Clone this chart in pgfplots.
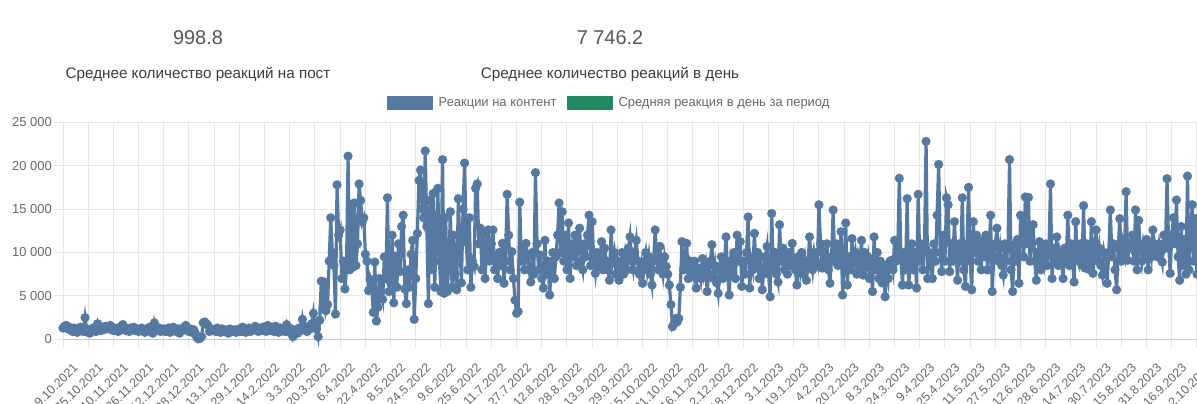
\documentclass[border=0pt]{standalone}
\usepackage{pgfplots}
\pgfplotsset{compat=1.18}
\usepackage{fontspec}
\setmainfont{Liberation Sans}
\definecolor{linecol}{RGB}{86,121,161}
\definecolor{greencol}{RGB}{33,138,99}
\definecolor{gridcol}{RGB}{230,230,230}
\definecolor{zerocol}{RGB}{200,200,200}
\definecolor{labcol}{RGB}{102,102,102}
\definecolor{headcol}{RGB}{85,85,85}
\definecolor{subcol}{RGB}{60,60,60}
\begin{document}
\begin{tikzpicture}[x=1bp,y=1bp]
\useasboundingbox (0,0) rectangle (1197,403);
\clip (0,0) rectangle (1197,403);
\node[font=\fontsize{20}{24}\selectfont, text=headcol] at (198,365) {998.8};
\node[font=\fontsize{15.3}{18}\selectfont, text=subcol] at (198,329) {Среднее количество реакций на пост};
\node[font=\fontsize{20}{24}\selectfont, text=headcol] at (610,365) {7 746.2};
\node[font=\fontsize{15.3}{18}\selectfont, text=subcol] at (610,329) {Среднее количество реакций в день};
\begin{axis}[
  at={(63bp,63.7bp)}, anchor=south west,
  scale only axis, width=1134bp, height=217bp,
  xmin=0, xmax=720, ymin=0, ymax=25000,
  clip=false,
  axis lines=left, axis line style={-, draw=gridcol, line width=1bp},
  x axis line style={draw=zerocol},
  grid=major, grid style={draw=gridcol, line width=1bp},
  tick align=outside, major tick length=9bp,
  tick style={draw=gridcol, line width=1bp},
  xtick={0,16,...,720},
  xticklabels={9.10.2021,25.10.2021,10.11.2021,26.11.2021,12.12.2021,28.12.2021,13.1.2022,29.1.2022,14.2.2022,3.3.2022,20.3.2022,6.4.2022,22.4.2022,8.5.2022,24.5.2022,9.6.2022,25.6.2022,11.7.2022,27.7.2022,12.8.2022,28.8.2022,13.9.2022,29.9.2022,15.10.2022,31.10.2022,16.11.2022,2.12.2022,18.12.2022,3.1.2023,19.1.2023,4.2.2023,20.2.2023,8.3.2023,24.3.2023,9.4.2023,25.4.2023,11.5.2023,27.5.2023,12.6.2023,28.6.2023,14.7.2023,30.7.2023,15.8.2023,31.8.2023,16.9.2023,2.10.2023},
  xticklabel style={rotate=45, anchor=east, inner sep=0pt, xshift=-3bp, yshift=-21bp, font=\fontsize{12.5}{12.5}\selectfont, text=labcol},
  ytick={0,5000,...,25000},
  scaled y ticks=false,
  yticklabel style={anchor=east, inner sep=0pt, xshift=-2bp, font=\fontsize{13}{13}\selectfont, text=labcol},
  /pgf/number format/.cd, 1000 sep={\ }, assume math mode=true, /pgfplots/.cd,
  legend columns=2,
  legend style={at={(0.2857,1.089)}, anchor=west, draw=none, fill=none,
    font=\fontsize{13}{15}\selectfont, text=labcol, inner sep=0pt,
    nodes={inner sep=1bp},
    /tikz/every odd column/.append style={column sep=4.5bp},
    /tikz/every even column/.append style={column sep=9.5bp}},
  legend image code/.code={\path[fill, draw=none] (0bp,-7bp) rectangle (46bp,7bp);},
]
\addplot[color=linecol, line width=3.2bp, mark=*, mark size=2.9bp]
 table[row sep=\\, header=false, x expr=\coordindex, y index=0] {
1300\\1500\\1600\\1200\\1400\\1100\\900\\1300\\1000\\800\\1200\\1400\\1000\\900\\2500\\1200\\
800\\700\\1100\\1300\\1000\\900\\1800\\1200\\1000\\1400\\1100\\1500\\1300\\1200\\1600\\1100\\
1000\\1300\\1200\\900\\1400\\1100\\1700\\1300\\1000\\1200\\900\\1300\\1100\\1400\\1000\\1200\\
900\\1100\\1300\\1000\\800\\1200\\1000\\1400\\900\\700\\1900\\1100\\1000\\1300\\900\\1100\\
1200\\900\\1000\\1300\\800\\1100\\1400\\1000\\900\\1200\\700\\1000\\1300\\1100\\1600\\1000\\
900\\1200\\800\\1100\\700\\200\\50\\100\\300\\1900\\2000\\1800\\1600\\900\\1200\\1000\\
1100\\900\\1300\\1000\\800\\1200\\900\\1100\\1000\\700\\1200\\1000\\900\\1100\\800\\1000\\
1200\\900\\1400\\1000\\800\\1100\\1300\\900\\1000\\1200\\1500\\1100\\900\\1300\\1000\\1400\\
1100\\900\\1600\\1200\\1000\\1400\\900\\1500\\1100\\800\\1300\\1000\\1200\\900\\1700\\1100\\
800\\1200\\300\\900\\1100\\700\\1300\\1000\\2300\\1100\\1400\\900\\1500\\1200\\1800\\3000\\
1500\\1200\\300\\2200\\6700\\3500\\6600\\3300\\4000\\9000\\14000\\10000\\8500\\2900\\17800\\12000\\
12600\\7000\\9000\\5800\\8000\\21100\\8000\\15500\\8300\\15700\\8500\\11000\\17900\\16000\\13500\\14000\\
9800\\9000\\5600\\6900\\6000\\3100\\8900\\2100\\3700\\7000\\5500\\4600\\9500\\7000\\16300\\5500\\
6500\\12000\\4200\\9600\\6000\\11000\\7800\\13000\\14300\\5800\\4100\\8000\\6000\\9800\\11400\\2300\\
7000\\12200\\18300\\19500\\15000\\14000\\21700\\13000\\4100\\16000\\8000\\16800\\6000\\12000\\17400\\9000\\
5500\\20700\\5300\\14000\\5500\\9000\\14700\\6000\\12000\\7500\\5700\\16200\\11000\\6500\\15000\\20300\\
11200\\8000\\14000\\6000\\9000\\8400\\17400\\17900\\11000\\12800\\8000\\12000\\7000\\10500\\12600\\9000\\
11000\\12600\\8000\\9500\\7000\\10000\\8500\\11050\\6450\\9000\\16700\\12000\\8000\\10100\\7000\\4500\\
3000\\3200\\15800\\9000\\10500\\8000\\11050\\9500\\8000\\6600\\10000\\7500\\19200\\11000\\8000\\9700\\
7000\\5900\\11400\\7500\\9000\\5100\\8000\\10000\\7000\\9500\\12000\\15700\\10000\\14700\\9000\\12000\\
8000\\13400\\7000\\11000\\9500\\12000\\8500\\11000\\12800\\9000\\8000\\11000\\9500\\12000\\14300\\8500\\
13550\\9000\\7600\\10000\\8500\\9500\\11250\\8000\\10500\\9000\\8000\\6800\\12600\\9000\\10000\\7500\\
9000\\6800\\8500\\10000\\7500\\9500\\8000\\10500\\11800\\9000\\8000\\10000\\11400\\9000\\7500\\8500\\
6450\\9000\\10000\\8000\\9500\\7500\\6250\\9000\\12600\\9500\\8000\\10700\\9000\\7500\\9500\\8400\\
7500\\6250\\4000\\1450\\1800\\2400\\2000\\2400\\6000\\11250\\8000\\9500\\11050\\7000\\9000\\8500\\
7500\\9000\\5900\\8000\\8200\\7000\\9300\\7500\\8500\\5500\\7500\\9000\\10900\\7000\\8500\\6500\\
5300\\8000\\9500\\7000\\8500\\11800\\7500\\5100\\9000\\8000\\10000\\7000\\12000\\9000\\11250\\6100\\
9000\\7500\\10000\\14100\\5900\\9000\\8000\\12200\\8500\\10000\\7000\\9500\\5700\\8000\\9500\\10700\\
7500\\4900\\14500\\8000\\10000\\7500\\6600\\13200\\9000\\10500\\8000\\9500\\7500\\10000\\8500\\11050\\
9000\\8000\\6250\\9500\\8000\\10000\\7500\\9000\\6800\\8500\\11800\\9500\\8000\\10000\\9000\\8500\\
15500\\11000\\8200\\10000\\9000\\11000\\8000\\6450\\9500\\14900\\9000\\11000\\8500\\10000\\12400\\5100\\
9000\\13400\\6250\\9500\\8000\\11600\\9000\\10000\\7500\\9500\\8500\\11400\\7400\\10000\\8500\\9500\\
7000\\9000\\5500\\11800\\8000\\10000\\7000\\9000\\6500\\8000\\4900\\8500\\7000\\9000\\9100\\8000\\
11400\\9000\\10000\\18550\\9500\\6250\\10000\\8000\\16200\\6250\\9000\\11000\\8000\\10000\\5900\\16700\\
9000\\11000\\8000\\10500\\22800\\7000\\10000\\9000\\7000\\11000\\9000\\14300\\20150\\10000\\7800\\12000\\
9000\\16300\\15500\\7800\\11000\\9000\\13550\\10000\\6800\\11000\\9000\\16300\\8000\\6100\\11000\\17500\\
9000\\5700\\13550\\10000\\12000\\9000\\11000\\8000\\11400\\9500\\12000\\8000\\10000\\14300\\5500\\9500\\
11000\\12800\\9000\\10500\\8500\\7400\\11000\\9000\\10500\\20700\\8000\\5500\\10900\\9000\\11500\\6450\\
14300\\14100\\9500\\16400\\11000\\16350\\9000\\11000\\13200\\9000\\6800\\10000\\11250\\8000\\10500\\9000\\
11000\\8500\\10000\\17900\\7000\\10500\\9000\\11800\\8500\\10000\\9000\\7000\\10500\\9000\\14300\\8500\\
11000\\9000\\6600\\13550\\10000\\9000\\11000\\8500\\15400\\8200\\11000\\9500\\8000\\13550\\7600\\10000\\
12600\\9000\\10500\\8500\\7400\\10000\\9000\\6450\\10000\\14900\\9500\\11000\\8000\\5700\\10500\\13900\\
9000\\11000\\10000\\17000\\9100\\11000\\10500\\12000\\9000\\14900\\8000\\13700\\10500\\9000\\11000\\10000\\
11500\\8000\\10500\\9500\\12600\\11000\\10000\\9500\\11000\\10000\\8900\\12000\\10500\\18500\\11000\\7600\\
12000\\14000\\11000\\16050\\9500\\6800\\13000\\8500\\11500\\7500\\18800\\8000\\12000\\15500\\9000\\13900\\
7500\\12000\\9500\\11000\\8500\\
};
\addlegendentry{Реакции на контент}
\addlegendimage{color=greencol}
\addlegendentry{Средняя реакция в день за период}
\end{axis}
\end{tikzpicture}
\end{document}
